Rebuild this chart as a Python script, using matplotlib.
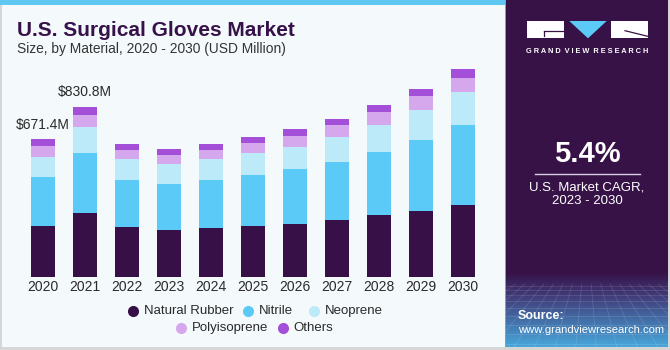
import numpy as np
import matplotlib
matplotlib.use("Agg")
import matplotlib.pyplot as plt
from matplotlib.patches import Rectangle, Polygon
from matplotlib.lines import Line2D

plt.rcParams['font.family'] = ['Liberation Sans', 'DejaVu Sans']

years = ['2020', '2021', '2022', '2023', '2024', '2025', '2026', '2027', '2028', '2029', '2030']
natural_rubber = [250.2, 312.3, 242.4, 229.2, 237.5, 248.7, 258.5, 276.0, 300.4, 319.9, 352.6]
nitrile = [237.5, 294.2, 230.7, 225.8, 235.6, 250.2, 268.2, 286.3, 310.7, 349.7, 390.2]
neoprene = [99.0, 126.8, 101.0, 96.1, 101.0, 103.9, 108.8, 118.5, 128.3, 142.9, 157.5]
polyisoprene = [50.7, 58.5, 45.4, 45.4, 45.4, 50.7, 52.2, 58.5, 63.4, 68.3, 70.2]
others = [34.0, 39.0, 29.3, 29.3, 29.3, 29.3, 34.1, 32.7, 34.1, 36.1, 43.9]
series_names = ['Natural Rubber', 'Nitrile', 'Neoprene', 'Polyisoprene', 'Others']
colors = ['#371047', '#5ccaf6', '#bdeaf9', '#d5a8ed', '#a44fd8']
annotated = {'2020': '$671.4M', '2021': '$830.8M'}

W, H = 670, 350
fig = plt.figure(figsize=(W / 100, H / 100), dpi=100, facecolor='#d6d6d6')

# background axes in pixel coords
bg = fig.add_axes([0, 0, 1, 1], zorder=0)
bg.set_xlim(0, W); bg.set_ylim(H, 0); bg.axis('off')
bg.add_patch(Rectangle((2, 0), 503, 347, color='#f4f9fc', lw=0))
bg.add_patch(Rectangle((0, 0), 505, 5, color='#5ec8f2', lw=0))
bg.add_patch(Rectangle((505, 0), 1, 347, color='#9c8fb0', lw=0))

# right panel with gradient
px0, px1, py1 = 506, 668, 347
pan = fig.add_axes([px0 / W, 1 - py1 / H, (px1 - px0) / W, py1 / H], zorder=1)
pan.set_xlim(0, px1 - px0); pan.set_ylim(py1, 0); pan.axis('off')
rows = np.arange(py1)
purple = np.array([0x37, 0x12, 0x47]) / 255
mid = np.array([0x40, 0x3a, 0x78]) / 255
blue = np.array([0x48, 0xa8, 0xdc]) / 255
grad = np.zeros((py1, 1, 3))
for r in rows:
    if r < 272:
        c = purple
    else:
        t = (r - 272) / (py1 - 272)
        if t < 0.3:
            c = purple + (mid - purple) * (t / 0.3)
        else:
            c = mid + (blue - mid) * ((t - 0.3) / 0.7)
    grad[r, 0] = c
pan.imshow(grad, extent=(0, px1 - px0, py1, 0), aspect='auto', interpolation='bilinear')
# perspective grid decoration
for k in range(1, 14):
    yy = 284 + (k ** 1.55) * 2.0
    if yy < py1:
        pan.plot([0, px1 - px0], [yy, yy], color='white', alpha=0.13, lw=0.6)
vx, vy = 81, 230
for bx in np.linspace(-260, 420, 34):
    t0 = (284 - vy) / (py1 - vy)
    x_start = vx + (bx - vx) * t0
    pan.plot([x_start, bx], [284, py1], color='white', alpha=0.13, lw=0.6)
pan.set_xlim(0, px1 - px0); pan.set_ylim(py1, 0)

# overlay axes for texts / logo
ov = fig.add_axes([0, 0, 1, 1], zorder=2)
ov.set_xlim(0, W); ov.set_ylim(H, 0); ov.axis('off'); ov.patch.set_alpha(0)

ov.text(17, 30, 'U.S. Surgical Gloves Market', fontsize=15, fontweight='bold',
        color='#37124a', va='center', ha='left')
ov.text(17, 48.5, 'Size, by Material, 2020 - 2030 (USD Million)', fontsize=9.9,
        color='#333333', va='center', ha='left')

# logo
ov.add_patch(Rectangle((527.3, 21), 36.7, 17.3, color='white', lw=0))
ov.add_line(Line2D([544, 564], [31.2, 31.2], color='#371247', lw=0.9))
ov.add_line(Line2D([544, 544], [31.2, 35.5], color='#371247', lw=0.9))
ov.add_patch(Polygon([(569.3, 21), (606.7, 21), (588, 38.3)], closed=True, color='#5ccaf6', lw=0))
ov.add_patch(Rectangle((610.7, 21), 37, 17.3, color='white', lw=0))
ov.add_line(Line2D([625, 647.7], [30.7, 36.3], color='#371247', lw=0.9))
ov.text(587.5, 51.5, 'G R A N D  V I E W  R E S E A R C H', fontsize=5.3,
        fontweight='bold', color='white', ha='center', va='center')

ov.text(587, 154.5, '5.4%', fontsize=21, fontweight='bold', color='white', ha='center', va='center')
ov.add_line(Line2D([535, 640], [174.3, 174.3], color='#d8d0e0', lw=1))
ov.text(587, 187, 'U.S. Market CAGR,', fontsize=9.5, color='white', ha='center', va='center')
ov.text(587, 201, '2023 - 2030', fontsize=9.5, color='white', ha='center', va='center')
ov.text(518, 316, 'Source:', fontsize=9, fontweight='bold', color='white', ha='left', va='center')
ov.text(518, 330, 'www.grandviewresearch.com', fontsize=8.1, color='white', ha='left', va='center')

# legend (manual)
leg_items = [(133.3, 311, 0), (247.7, 311, 1), (313.7, 311, 2), (181.3, 328, 3), (282.7, 328, 4)]
for x, y, i in leg_items:
    ov.plot([x], [y], marker='o', ms=8, color=colors[i], mec='none')
    ov.text(x + 11, y, series_names[i], fontsize=9.5, color='#2a2a2a', ha='left', va='center')

# chart axes
L, R, base, top = 15, 490, 277, 60
upp = 4.877
ax = fig.add_axes([L / W, 1 - base / H, (R - L) / W, (base - top) / H], zorder=3)
ax.patch.set_alpha(0)
x = np.arange(len(years))
bottom = np.zeros(len(years))
for vals, c in zip([natural_rubber, nitrile, neoprene, polyisoprene, others], colors):
    v = np.array(vals)
    ax.bar(x, v, width=0.57, bottom=bottom, color=c, lw=0)
    bottom += v
for i, yr in enumerate(years):
    if yr in annotated:
        ax.annotate(annotated[yr], (x[i], bottom[i]), xytext=(0, 10.5), textcoords='offset points',
                    ha='center', va='center', fontsize=10, color='#2a2a2a')
ax.set_xlim(-0.667, 10.648)
ax.set_ylim(0, (base - top) * upp)
ax.set_xticks(x)
ax.set_xticklabels(years, fontsize=10, color='#2a2a2a')
ax.tick_params(axis='x', length=0, pad=2.5)
ax.set_yticks([])
for s in ax.spines.values():
    s.set_visible(False)

fig.savefig('out.png', dpi=100, facecolor=fig.get_facecolor())
